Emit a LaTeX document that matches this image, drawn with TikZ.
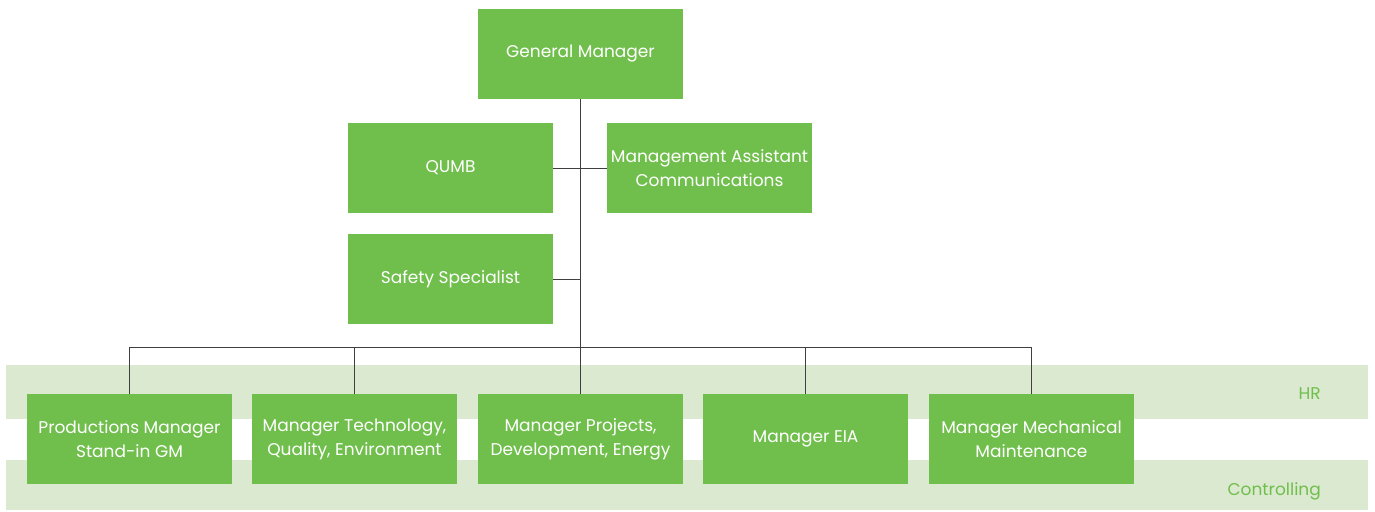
\documentclass[tikz,border=0pt]{standalone}
\usepackage{fontspec}
\setmainfont{Poppins}
\usepackage{xcolor}
\definecolor{boxgreen}{HTML}{70BF4C}
\definecolor{bandgreen}{HTML}{DAE9CF}
\definecolor{linegray}{HTML}{3F3F3F}
\begin{document}
\begin{tikzpicture}[x=1pt,y=-1pt,
    unit/.style={fill=boxgreen,text=white,minimum width=205pt,minimum height=90pt,
      inner sep=0pt,align=center,font=\fontsize{17}{24}\selectfont},
    band/.style={fill=bandgreen,minimum width=1362pt,inner sep=0pt},
    bandlabel/.style={anchor=east,text=boxgreen,inner sep=0pt,font=\fontsize{17}{20}\selectfont},
    link/.style={draw=linegray,line width=1pt}]

    \useasboundingbox (0,0) rectangle (1375,511);

    \node[band,minimum height=54pt] (hr) at (687,392) {};
    \node[band,minimum height=50pt] (ctl) at (687,485) {};
    \node[bandlabel] (hrl) at (1321,394) {HR};
    \node[bandlabel] (ctll) at (1321,491) {Controlling};

    \node[unit] (gm) at (580.5,54) {General Manager};
    \node[unit] (qumb) at (450.5,168) {QUMB};
    \node[unit] (asst) at (709.5,168) {Management Assistant\\Communications};
    \node[unit] (safe) at (450.5,279) {Safety Specialist};
    \coordinate (bus) at (580.5,347);

    \node[unit] (pm) at (129.5,439) {Productions Manager\\Stand-in GM};
    \node[unit] (tech) at (354.5,439) {Manager Technology,\\Quality, Environment};
    \node[unit] (proj) at (580.5,439) {Manager Projects,\\Development, Energy};
    \node[unit] (eia) at (805.5,439) {Manager EIA};
    \node[unit] (mech) at (1031.5,439) {Manager Mechanical\\Maintenance};

    \draw[link] (gm) -- (bus);
    \draw[link] (qumb) -- (asst);
    \draw[link] (safe.east) -- (safe.east -| gm.south);
    \draw[link] (bus) -| (pm.north);
    \draw[link] (bus) -| (tech.north);
    \draw[link] (bus) -- (proj.north);
    \draw[link] (bus) -| (eia.north);
    \draw[link] (bus) -| (mech.north);

  \end{tikzpicture}
\end{document}
